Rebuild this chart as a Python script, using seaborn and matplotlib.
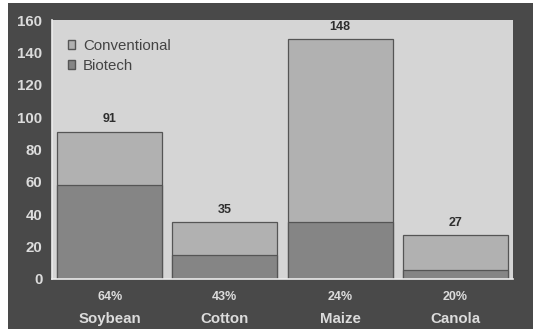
import matplotlib
matplotlib.use("Agg")
import matplotlib.pyplot as plt
from matplotlib.patches import Patch, Rectangle
import seaborn as sns
import pandas as pd

# Crop area (million hectares) and share planted to biotech varieties
crops = ["Soybean", "Cotton", "Maize", "Canola"]
total_area = [91, 35, 148, 27]
biotech_share = [64, 43, 24, 20]
yticks = [0, 20, 40, 60, 80, 100, 120, 140, 160]

biotech_area = [t * s / 100 for t, s in zip(total_area, biotech_share)]
df = pd.DataFrame({"crop": crops, "total": total_area, "biotech": biotech_area})

OUTER = "#494949"
PANEL = "#d5d5d5"
CONV = "#b1b1b1"
BIO = "#858585"
EDGE = "#555555"
TICK_TXT = "#dcdcdc"

sns.set_theme(style="white")
plt.rcParams["font.family"] = ["Liberation Sans", "DejaVu Sans"]

fig = plt.figure(figsize=(5.33, 3.29), dpi=100)
fig.patch.set_facecolor("white")
fig.patches.append(Rectangle((8 / 533, 0), 1, 1 - 3 / 329, transform=fig.transFigure,
                             facecolor=OUTER, edgecolor="none", zorder=-10))
ax = fig.add_axes([52 / 533, 1 - 279 / 329, 461 / 533, 259 / 329])
ax.set_facecolor(PANEL)

sns.barplot(data=df, x="crop", y="total", color=CONV, width=0.91,
            edgecolor=EDGE, linewidth=0.9, saturation=1, ax=ax)
sns.barplot(data=df, x="crop", y="biotech", color=BIO, width=0.91,
            edgecolor=EDGE, linewidth=0.9, saturation=1, ax=ax)

ax.set_xlim(-0.5, 3.5)
ax.set_ylim(0, 160)
ax.set_yticks(yticks)
ax.set_yticklabels([str(v) for v in yticks], fontsize=10.8, fontweight="bold", color=TICK_TXT)
ax.tick_params(axis="y", length=0, pad=7)
ax.set_xticks([0.5, 1.5, 2.5])
ax.set_xticklabels([])
ax.tick_params(axis="x", length=3, width=0.8, color="#bdbdbd", direction="out")
ax.set_xlabel("")
ax.set_ylabel("")

for i, (c, s) in enumerate(zip(crops, biotech_share)):
    ax.text(i, -11.3, f"{s}%", ha="center", va="center", fontsize=9,
            fontweight="bold", color=TICK_TXT)
    ax.text(i, -24.8, c, ha="center", va="center", fontsize=10.8,
            fontweight="bold", color=TICK_TXT)

for i, t in enumerate(total_area):
    ax.text(i, t + 4, str(t), ha="center", va="bottom", fontsize=9,
            fontweight="bold", color="#2e2e2e")

for side in ["top", "right"]:
    ax.spines[side].set_visible(False)
for side in ["left", "bottom"]:
    ax.spines[side].set_color("#ececec")
    ax.spines[side].set_linewidth(1.2)

handles = [Patch(facecolor=CONV, edgecolor="#555555", label="Conventional"),
           Patch(facecolor=BIO, edgecolor="#555555", label="Biotech")]
ax.legend(handles=handles, loc="upper left", bbox_to_anchor=(0.005, 0.98),
          frameon=False, fontsize=10.8, handlelength=0.5, handleheight=0.5,
          handletextpad=0.5, labelspacing=0.4, labelcolor="#444444")

fig.savefig("out.png", dpi=100, facecolor=fig.get_facecolor())
